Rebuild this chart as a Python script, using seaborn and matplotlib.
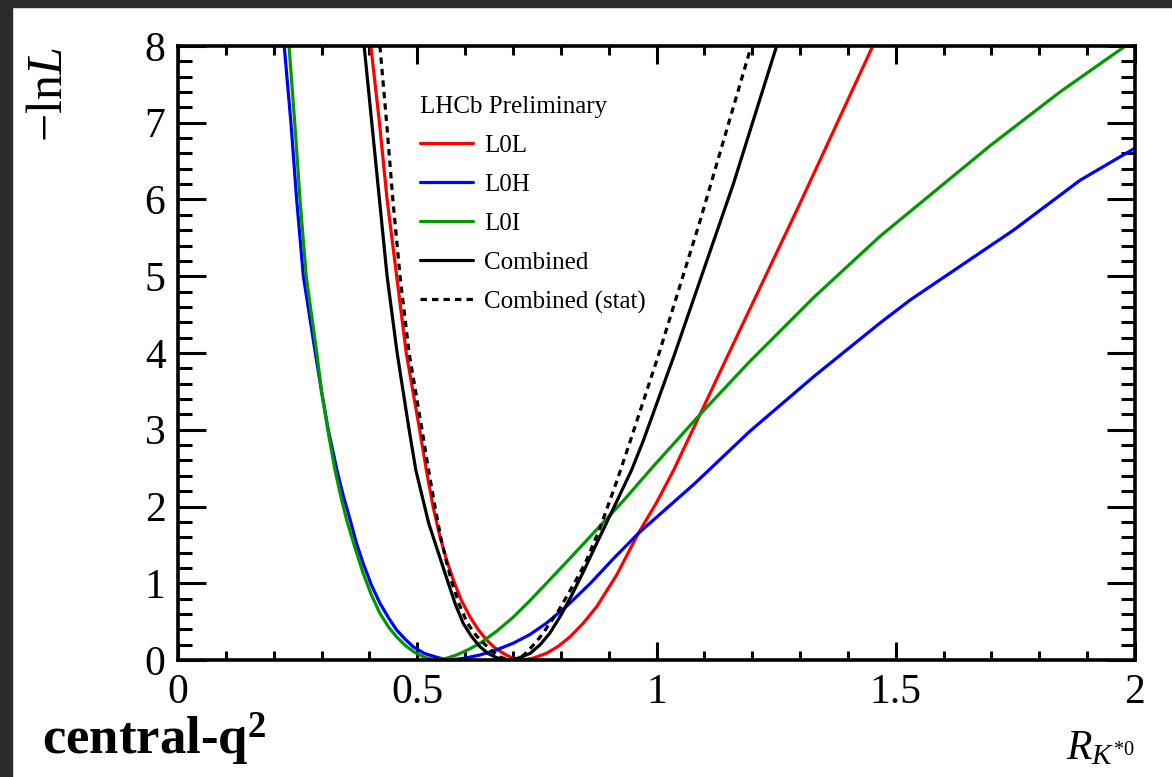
import numpy as np
import pandas as pd
import matplotlib
matplotlib.use("Agg")
import matplotlib.pyplot as plt
from matplotlib.patches import Rectangle
import seaborn as sns

# -lnL scan points, per trigger category
l0l_x = [0.403, 0.421, 0.437, 0.457, 0.477, 0.505, 0.519, 0.533, 0.5475, 0.561, 0.5755, 0.592,
         0.610, 0.627, 0.645, 0.662, 0.680, 0.700, 0.718, 0.740, 0.770, 0.795, 0.819, 0.847,
         0.875, 0.917, 0.962, 1.000, 1.036, 1.091, 1.150, 1.300, 1.452]
l0l_y = [8.0, 7.0, 6.0, 5.0, 4.0, 3.0, 2.476, 2.0, 1.607, 1.31, 1.04, 0.78,
         0.565, 0.40, 0.26, 0.16, 0.087, 0.02, 0.0, 0.02, 0.087, 0.18, 0.30, 0.48,
         0.695, 1.11, 1.65, 2.05, 2.476, 3.20, 3.98, 5.95, 8.0]

l0h_x = [0.222, 0.236, 0.248, 0.262, 0.287, 0.300, 0.314, 0.332, 0.345, 0.360, 0.373, 0.387,
         0.404, 0.422, 0.440, 0.457, 0.475, 0.492, 0.515, 0.541, 0.562, 0.582, 0.600, 0.631,
         0.665, 0.701, 0.735, 0.770, 0.812, 0.862, 0.910, 0.962, 1.080, 1.195, 1.330, 1.467,
         1.530, 1.746, 1.885, 2.0]
l0h_y = [8.0, 7.0, 6.0, 5.0, 4.0, 3.5, 3.0, 2.48, 2.15, 1.82, 1.52, 1.26,
         0.98, 0.74, 0.55, 0.39, 0.27, 0.17, 0.085, 0.035, 0.0, 0.01, 0.025, 0.065,
         0.13, 0.22, 0.33, 0.48, 0.70, 1.0, 1.32, 1.65, 2.30, 2.98, 3.70, 4.39,
         4.69, 5.60, 6.25, 6.67]

l0i_x = [0.232, 0.244, 0.255, 0.268, 0.290, 0.300, 0.313, 0.328, 0.340, 0.3525, 0.370, 0.387,
         0.404, 0.422, 0.440, 0.457, 0.475, 0.492, 0.515, 0.538, 0.560, 0.582, 0.605, 0.631,
         0.665, 0.701, 0.735, 0.770, 0.820, 0.875, 0.930, 0.990, 1.091, 1.195, 1.328, 1.467,
         1.697, 1.843, 1.980]
l0i_y = [8.0, 7.0, 6.0, 5.0, 4.0, 3.5, 3.0, 2.476, 2.14, 1.824, 1.46, 1.13,
         0.85, 0.608, 0.43, 0.30, 0.19, 0.11, 0.035, 0.0, 0.02, 0.065, 0.13, 0.217,
         0.37, 0.56, 0.77, 1.0, 1.33, 1.70, 2.07, 2.50, 3.20, 3.89, 4.72, 5.52,
         6.70, 7.40, 8.0]

comb_x = [0.389, 0.405, 0.421, 0.437, 0.458, 0.483, 0.497, 0.524, 0.545, 0.565, 0.580, 0.596,
          0.613, 0.631, 0.648, 0.666, 0.690, 0.712, 0.736, 0.757, 0.777, 0.800, 0.823, 0.848,
          0.875, 0.910, 0.948, 0.972, 1.037, 1.161, 1.251]
comb_y = [8.0, 7.0, 6.0, 5.0, 4.0, 3.0, 2.476, 1.78, 1.38, 1.0, 0.72, 0.478,
          0.31, 0.174, 0.085, 0.03, 0.0, 0.025, 0.087, 0.2, 0.35, 0.58, 0.847, 1.16,
          1.52, 1.976, 2.476, 2.85, 3.97, 6.21, 8.0]

stat_x = [0.422, 0.436, 0.449, 0.464, 0.483, 0.510, 0.523, 0.537, 0.549, 0.561, 0.573, 0.588,
          0.605, 0.623, 0.642, 0.659, 0.676, 0.700, 0.722, 0.746, 0.762, 0.777, 0.795, 0.812,
          0.830, 0.851, 0.882, 0.917, 0.945, 1.004, 1.091, 1.198]
stat_y = [8.0, 7.0, 6.0, 5.0, 4.0, 3.0, 2.5, 2.0, 1.6, 1.28, 1.0, 0.72,
          0.478, 0.32, 0.2, 0.10, 0.03, 0.0, 0.06, 0.217, 0.34, 0.478, 0.64, 0.825,
          1.02, 1.26, 1.72, 2.33, 2.85, 3.97, 5.72, 8.0]

curves = [
    ("L0L", l0l_x, l0l_y, "#ff0000", "-"),
    ("L0H", l0h_x, l0h_y, "#0000ff", "-"),
    ("L0I", l0i_x, l0i_y, "#009900", "-"),
    ("Combined", comb_x, comb_y, "#000000", "-"),
    ("Combined (stat)", stat_x, stat_y, "#000000", (0, (2.0, 1.6))),
]

sns.set_theme(style="ticks")
plt.rcParams["font.family"] = ["Liberation Serif", "DejaVu Serif"]
plt.rcParams["mathtext.fontset"] = "custom"
plt.rcParams["mathtext.rm"] = "Liberation Serif"
plt.rcParams["mathtext.it"] = "Liberation Serif:italic"
plt.rcParams["mathtext.bf"] = "Liberation Serif:bold"
for key in ["text.color", "axes.labelcolor", "xtick.color", "ytick.color", "axes.edgecolor"]:
    plt.rcParams[key] = "black"

fig = plt.figure(figsize=(11.72, 7.77), dpi=100)
ax = fig.add_axes([178 / 1172, 1 - 660 / 777, (1135 - 178) / 1172, (660 - 46) / 777])

for name, xs, ys, col, ls in curves:
    df = pd.DataFrame({"x": xs, "y": ys})
    sns.lineplot(data=df, x="x", y="y", ax=ax, color=col, linestyle=ls,
                 linewidth=2.3, label=name, estimator=None, sort=True)

ax.set_xlim(0, 2)
ax.set_ylim(0, 8)
ax.set_xticks([0, 0.5, 1, 1.5, 2])
ax.set_xticklabels(["0", "0.5", "1", "1.5", "2"])
ax.set_yticks(range(0, 9))
ax.set_xticks(np.arange(0, 2.01, 0.1), minor=True)
ax.set_yticks(np.arange(0, 8.01, 0.2), minor=True)
ax.set_xlabel("")
ax.set_ylabel("")

for sp in ax.spines.values():
    sp.set_linewidth(2.6)
    sp.set_color("black")
ax.tick_params(which="both", direction="in", top=True, right=True,
               width=2.2, colors="black", labelsize=30)
ax.tick_params(axis="x", which="major", length=13, pad=10)
ax.tick_params(axis="x", which="minor", length=6.5)
ax.tick_params(axis="y", which="major", length=20, pad=9)
ax.tick_params(axis="y", which="minor", length=10)

leg = ax.legend(title="LHCb Preliminary", loc="upper left",
                bbox_to_anchor=(420 / 1172, 1 - 96 / 777), bbox_transform=fig.transFigure,
                frameon=False, fontsize=18, title_fontsize=18, alignment="left",
                handlelength=2.1, handletextpad=0.45, labelspacing=0.66, borderpad=0,
                borderaxespad=0)

fig.text(50 / 1172, 1 - 47 / 777, "\u2212ln$L$", rotation=90, ha="center", va="top",
         fontsize=36)
fig.text(42 / 1172, 1 - 755 / 777, "central-q$^{\\mathbf{2}}$", ha="left", va="baseline",
         fontsize=38, fontweight="bold")
fig.text(1135 / 1172, 1 - 759 / 777, "$R_{K^{*0}}$", ha="right", va="baseline",
         fontsize=30)

# dark slide frame along the left and top edges
fig.patches.append(Rectangle((0, 0), 12 / 1172, 1, transform=fig.transFigure,
                             color="#2a2a2a", zorder=-1))
fig.patches.append(Rectangle((0, 1 - 7 / 777), 1, 7 / 777, transform=fig.transFigure,
                             color="#2a2a2a", zorder=-1))

fig.savefig("out.png", dpi=100)
